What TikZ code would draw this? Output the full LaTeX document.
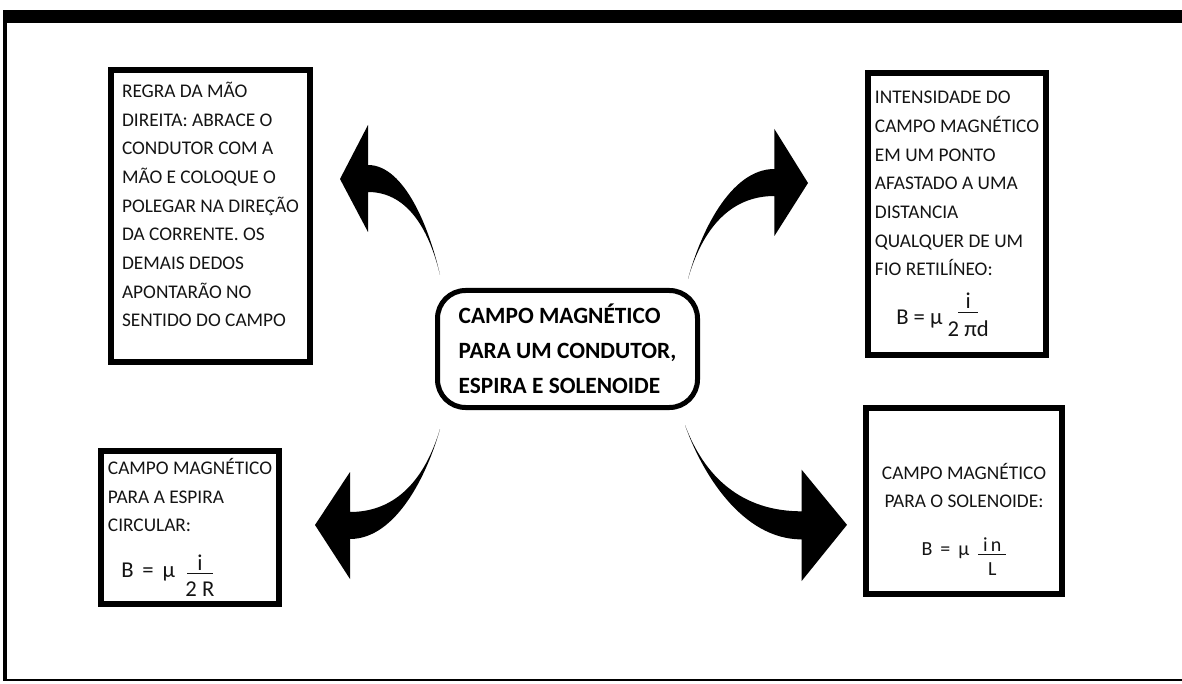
\documentclass[tikz,border=0pt]{standalone}
\usepackage{fontspec}
\setmainfont{Carlito}
\usetikzlibrary{positioning}

\newcommand{\eqfont}{\fontsize{17}{20}\selectfont}
\newcommand{\ratio}[4]{\raisebox{#4}{\shortstack{#1\\[-0.75pt]\rule{#3}{0.6pt}\\[3pt]#2}}}

\begin{document}
\begin{tikzpicture}[
	x=0.75pt, y=-0.75pt,
	box/.style={
		rectangle,
		draw=black,
		line width=4.5pt,
		align=left,
		text=black!92,
		font=\fontsize{14.5}{21.5}\selectfont
	},
	title/.style={
		rectangle,
		draw=black,
		line width=3.75pt,
		rounded corners=21pt,
		align=left,
		font=\fontsize{17.5}{26.3}\selectfont\bfseries,
		minimum width=195pt,
		minimum height=87.75pt
	},
	bentarrow/.pic={
		\fill (0,0) .. controls (-10,-45) and (-35,-110) .. (-72,-110)
			-- (-72,-150) -- (-100,-96) -- (-72,-43) -- (-72,-83)
			.. controls (-35,-83) and (-12,-50) .. cycle;
	},
]

\useasboundingbox (0,0) rectangle (1182,684);

% frame
\fill (3,10) rectangle (1182,23);
\fill (3,10) rectangle (7,681);
\fill (3,679) rectangle (1182,681);

\node[title] (title) at (567.5,349) {CAMPO MAGNÉTICO\\PARA UM CONDUTOR,\\ESPIRA E SOLENOIDE};

\node[box, minimum width=149.25pt, minimum height=219pt] (regra) at (210.5,216) {REGRA DA MÃO\\DIREITA: ABRACE O\\CONDUTOR COM A\\MÃO E COLOQUE O\\POLEGAR NA DIREÇÃO\\DA CORRENTE. OS\\DEMAIS DEDOS\\APONTARÃO NO\\SENTIDO DO CAMPO\\[-4.25pt]\mbox{}};

\node[box, minimum width=133.5pt, minimum height=211.5pt] (fio) at (957,214) {INTENSIDADE DO\\CAMPO MAGNÉTICO\\EM UM PONTO\\AFASTADO A UMA\\DISTANCIA\\QUALQUER DE UM\\FIO RETILÍNEO:\\[12pt]\hspace*{16pt}{\eqfont B = μ \ratio{i}{2 πd}{15pt}{-9pt}}};

\node[box, minimum width=133.5pt, minimum height=114.75pt] (espira) at (190,527.5) {CAMPO MAGNÉTICO\\PARA A ESPIRA\\CIRCULAR:\\[13pt]\hspace*{10pt}{\eqfont B\, =\, μ\ \ \ratio{i}{2 R}{19pt}{-14.25pt}}};

\node[box, align=center, minimum width=147pt, minimum height=139.5pt] (solenoide) at (964,501) {\mbox{}\\[18pt]CAMPO MAGNÉTICO\\PARA O SOLENOIDE:\\[14.5pt]{\fontsize{15}{18}\selectfont B\, =\, μ\ \ \ratio{i\,n}{L}{21pt}{-15pt}}};

% arrows
\pic at ([shift={(5,-13)}]title.north west) {bentarrow};
\pic[xscale=-1.2] at ([shift={(-12,-9)}]title.north east) {bentarrow};
\pic[xscale=1.25, yscale=-1] at ([shift={(5,19)}]title.south west) {bentarrow};
\pic[xscale=-1.62, yscale=-1.04] at ([shift={(-15,15)}]title.south east) {bentarrow};

\end{tikzpicture}
\end{document}
